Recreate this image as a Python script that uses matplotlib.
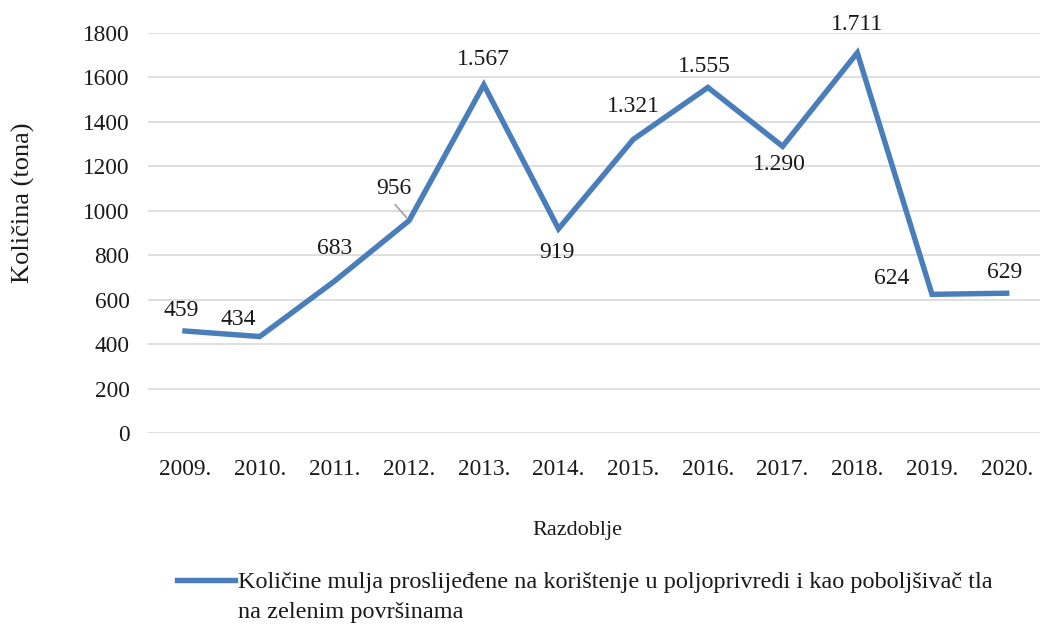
import matplotlib
matplotlib.use("Agg")
import matplotlib.pyplot as plt

years = ["2009.", "2010.", "2011.", "2012.", "2013.", "2014.", "2015.", "2016.", "2017.", "2018.", "2019.", "2020."]
values = [459, 434, 683, 956, 1567, 919, 1321, 1555, 1290, 1711, 624, 629]
labels = ["459", "434", "683", "956", "1.567", "919", "1.321", "1.555", "1.290", "1.711", "624", "629"]
yticks = [0, 200, 400, 600, 800, 1000, 1200, 1400, 1600, 1800]
series_line1 = "Količine mulja proslijeđene na korištenje u poljoprivredi i kao poboljšivač tla"
series_line2 = "na zelenim površinama"

plt.rcParams['font.family'] = ['Liberation Serif', 'DejaVu Serif']

W, H = 1040, 628
fig = plt.figure(figsize=(W / 100, H / 100), dpi=100)
left_px, width_px = 185 - 74.7 / 2, 74.7 * 12
ax = fig.add_axes([left_px / W, 1 - 433 / H, width_px / W, (433 - 33) / H])

x = list(range(len(years)))
color = "#4a7ebb"
txtc = "#1a1a1a"
line, = ax.plot(x, values, color=color, lw=3.9, solid_joinstyle='miter', zorder=3)

ax.set_xlim(-0.5, len(years) - 0.5)
ax.set_ylim(0, 1800)
ax.set_yticks(yticks)
ax.set_xticks(x)
ax.set_xticklabels(years)
ax.grid(axis='y', color='#d9d9d9', lw=1.2)
ax.set_axisbelow(True)
for s in ax.spines.values():
    s.set_visible(False)
ax.tick_params(length=0, labelsize=16.8, colors=txtc)
ax.tick_params(axis='y', pad=13)
ax.tick_params(axis='x', pad=19)

# label offsets in pixels (dx, dy)
offsets = [(-4, 20), (-21, 17), (0, 33), (-15, 32), (0, 25), (-2, -24), (0, 33),
           (-4, 21), (-3, -18), (0, 28), (-40, 16), (-2, 21)]
for i, (v, lab) in enumerate(zip(values, labels)):
    dx, dy = offsets[i]
    ax.annotate(lab, (i, v), xytext=(dx, dy), textcoords='offset pixels',
                ha='center', va='center', fontsize=17, color=txtc, zorder=4)
# leader line for 956
ax.annotate("", xy=(3, 956), xytext=(-14, 16), textcoords='offset pixels',
            xycoords='data',
            arrowprops=dict(arrowstyle='-', color='#a6a6a6', lw=1.3, shrinkA=0, shrinkB=2))

fig.text(577 / W, 1 - 530 / H, "Razdoblje", ha='center', va='center', fontsize=16, color=txtc)
fig.text(23 / W, 1 - 203 / H, "Količina (tona)", ha='center', va='center', rotation=90, fontsize=19, color=txtc)

leg = fig.legend(handles=[line], labels=[series_line1], loc='center left',
                 bbox_to_anchor=(177 / W, 1 - 582 / H), frameon=False, fontsize=17.5,
                 handlelength=2.4, handletextpad=0.1, borderpad=0, borderaxespad=0)
for t in leg.get_texts():
    t.set_color(txtc)
fig.canvas.draw()
bb = leg.get_texts()[0].get_window_extent()
fig.text(bb.x0 / W, (bb.y0 - 30 + bb.height / 2) / H, series_line2, ha='left', va='center',
         fontsize=17.5, color=txtc)

fig.savefig("out.png", dpi=100)
